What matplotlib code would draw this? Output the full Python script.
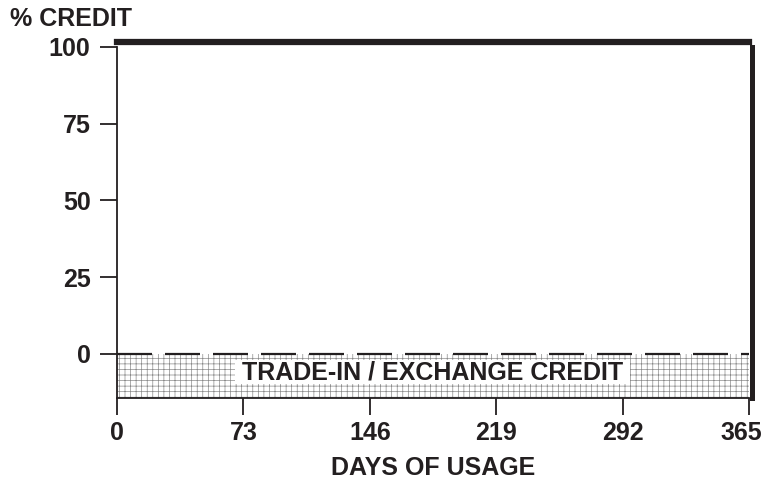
import matplotlib.pyplot as plt
from matplotlib.transforms import offset_copy, ScaledTranslation

plt.rcParams['font.family'] = ['Liberation Sans', 'DejaVu Sans']
plt.rcParams['font.weight'] = 'bold'
plt.rcParams['hatch.color'] = '#8a8a8a'
plt.rcParams['hatch.linewidth'] = 0.5

# data
top_days = [0, 365]
top_credit = [100, 100]
right_days = [365, 365]
right_credit = [100, -14.4]
x_ticks = [0, 73, 146, 219, 292, 365]
y_ticks = [0, 25, 50, 75, 100]
trade_days = [0, 365]
trade_top = [0, 0]
trade_bottom = -14.4

ink = '#231f20'

fig = plt.figure(figsize=(7.64, 4.79), dpi=100)
ax = fig.add_axes([117/764, 1 - 398/479, (749 - 117)/764, (398 - 47)/479])

ax.fill_between(trade_days, trade_top, trade_bottom, facecolor='white',
                edgecolor='#8a8a8a', hatch='+++', linewidth=0)
ax.plot(trade_days, trade_top, color=ink, lw=1.6, dashes=(15.75, 5.85))

# thick credit line sits just outside the 100% / 365 day limits
up = offset_copy(ax.transData, fig=fig, x=0, y=5, units='dots')
rt = offset_copy(ax.transData, fig=fig, x=2.5, y=0, units='dots')
ax.plot(top_days, top_credit, color=ink, lw=4.5, clip_on=False,
        solid_capstyle='projecting', transform=up)
ax.plot(right_days, right_credit, color=ink, lw=3.6, clip_on=False,
        solid_capstyle='projecting', transform=rt)

ax.text(182, -6.0, ' TRADE-IN / EXCHANGE CREDIT ', ha='center', va='center',
        fontsize=18, fontweight='bold', color=ink,
        bbox=dict(boxstyle='square,pad=0.0', facecolor='white', edgecolor='none'))

ax.set_xlim(0, 365)
ax.set_ylim(trade_bottom, 100)
ax.set_xticks(x_ticks)
ax.set_yticks(y_ticks)
ax.tick_params(length=12.5, width=1.3, color=ink, labelsize=18,
               labelcolor=ink)
ax.tick_params(axis='x', pad=4)
ax.tick_params(axis='y', pad=6.5)
for s in ['top', 'right']:
    ax.spines[s].set_visible(False)
for s in ['left', 'bottom']:
    ax.spines[s].set_linewidth(1.3)
    ax.spines[s].set_color(ink)

# last day label nudged left so it stays on the page
last = ax.get_xticklabels()[-1]
last.set_transform(last.get_transform() + ScaledTranslation(-0.08, 0, fig.dpi_scale_trans))

ax.set_xlabel('DAYS OF USAGE', fontsize=18, fontweight='bold', color=ink,
              labelpad=8)
fig.text(10/764, 1 - 19/479, '% CREDIT', fontsize=18, fontweight='bold',
         color=ink, ha='left', va='center')

fig.savefig('out.png', dpi=100)
